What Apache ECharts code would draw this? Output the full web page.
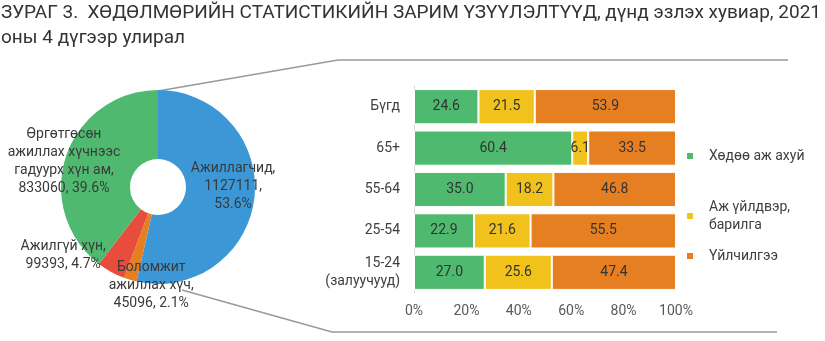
<!DOCTYPE html>
<html><head><meta charset="utf-8">
<script src="https://cdn.jsdelivr.net/npm/echarts@6/dist/echarts.min.js"></script>
<style>html,body{margin:0;padding:0;background:#fff}#c{width:825px;height:341px}</style>
</head><body><div id="c"></div>
<script>
// ---- data ----
var pieNames = ['Ажиллагчид', 'Боломжит ажиллах хүч', 'Ажилгүй хүн', 'Өргөтгөсөн ажиллах хүчнээс гадуурх хүн ам'];
var pieLabels = ['Ажиллагчид,\n1127111,\n53.6%', 'Боломжит\nажиллах хүч,\n45096, 2.1%', 'Ажилгүй хүн,\n99393, 4.7%', 'Өргөтгөсөн\nажиллах хүчнээс\nгадуурх хүн ам,\n833060, 39.6%'];
var pieValues = [1127111, 45096, 99393, 833060];
var pieColors = ['#3b97d5', '#e67e22', '#e74c3c', '#4fba6f'];

var barCategories = ['Бүгд', '65+', '55-64', '25-54', '15-24\n(залуучууд)'];
var agriculture = [24.6, 60.4, 35.0, 22.9, 27.0];
var industry = [21.5, 6.1, 18.2, 21.6, 25.6];
var services = [53.9, 33.5, 46.8, 55.5, 47.4];
var seriesNames = ['Хөдөө аж ахуй', 'Аж үйлдвэр,\nбарилга', 'Үйлчилгээ'];
var barColors = ['#4fba6f', '#f1c21b', '#e67e22'];
var xTicks = [0, 20, 40, 60, 80, 100];

var chart = echarts.init(document.getElementById('c'));
var font = 'Roboto, "Noto Sans", sans-serif';
var labelOffsets = [[10, -8], [12, 36], [-63, 11], [-32, -4]];

function barSeries(name, data, color) {
  return {
    name: name, type: 'bar', stack: 'total', data: data,
    barCategoryGap: '15%',
    itemStyle: { color: color, borderColor: '#fff', borderWidth: 1 },
    label: { show: true, position: 'inside', color: '#333', fontSize: 14, fontFamily: font,
      formatter: function (p) { return p.value.toFixed(1); } }
  };
}

chart.setOption({
  animation: false,
  textStyle: { fontFamily: font },
  title: {
    text: 'ЗУРАГ 3.  ХӨДӨЛМӨРИЙН СТАТИСТИКИЙН ЗАРИМ ҮЗҮҮЛЭЛТҮҮД, дүнд эзлэх хувиар, 2021\nоны 4 дүгээр улирал',
    left: 0, top: 0, padding: [1, 0, 0, 1],
    textStyle: { fontFamily: font, fontWeight: 'normal', fontSize: 19, color: '#333', lineHeight: 25 }
  },
  legend: [0, 1, 2].map(function (i) {
    var tops = [142, 193, 242];
    return {
      data: [seriesNames[i]], left: 680, top: tops[i], orient: 'vertical',
      itemWidth: 8, itemHeight: 8, itemGap: 10, icon: 'rect',
      textStyle: { fontSize: 14, color: '#404040', fontFamily: font, lineHeight: 18, padding: [0, 0, 0, 10] }
    };
  }),
  grid: { left: 414, right: 149, top: 86, bottom: 48 },
  xAxis: {
    type: 'value', min: 0, max: 100, interval: 20,
    axisLabel: { formatter: '{value}%', color: '#595959', fontSize: 14, margin: 11 },
    splitLine: { show: false }, axisLine: { show: false }, axisTick: { show: false }
  },
  yAxis: {
    type: 'category', data: barCategories, inverse: true,
    axisLine: { show: true, lineStyle: { color: '#d9d9d9' } }, axisTick: { show: false },
    axisLabel: { color: '#404040', fontSize: 14, margin: 14, align: 'right', lineHeight: 18 }
  },
  series: [
    {
      type: 'pie', center: [158, 187], radius: [28, 97], startAngle: 90, clockwise: true,
      data: pieValues.map(function (v, i) {
        return { name: pieNames[i], value: v, itemStyle: { color: pieColors[i] } };
      }),
      itemStyle: { borderColor: '#fff', borderWidth: 0 },
      label: { show: true, position: 'inside', color: '#3a3a3a', fontSize: 14, lineHeight: 18,
        formatter: function (p) { return pieLabels[p.dataIndex]; } },
      labelLayout: function (p) { var o = labelOffsets[p.dataIndex]; return { dx: o[0], dy: o[1] }; },
      labelLine: { show: false }
    },
    barSeries(seriesNames[0], agriculture, barColors[0]),
    barSeries(seriesNames[1], industry, barColors[1]),
    barSeries(seriesNames[2], services, barColors[2])
  ],
  graphic: [
    { type: 'polyline', shape: { points: [[158, 91], [338, 60], [788, 60]] }, style: { stroke: '#999', lineWidth: 1.5, fill: null }, z: -1 },
    { type: 'polyline', shape: { points: [[182, 290], [332, 332], [777, 332]] }, style: { stroke: '#999', lineWidth: 1.5, fill: null }, z: -1 }
  ]
});
</script></body></html>
